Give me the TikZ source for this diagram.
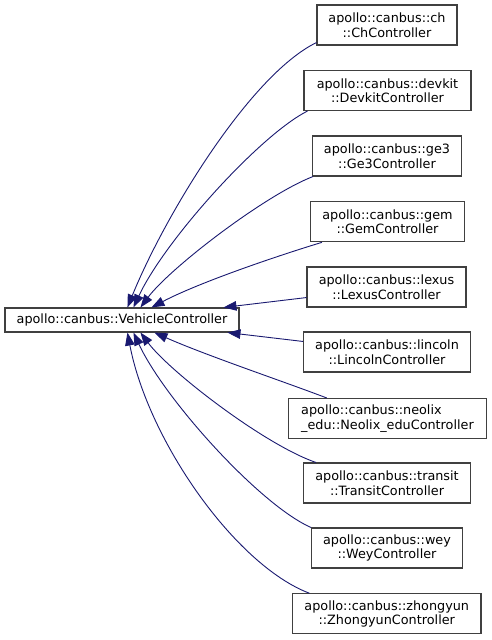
\documentclass[tikz,border=0pt]{standalone}
\usepackage{fontspec}
\setmainfont{DejaVu Sans}
\usetikzlibrary{arrows.meta}
\definecolor{edgec}{HTML}{191970}
\definecolor{boxc}{HTML}{404040}
\begin{document}
\begin{tikzpicture}[x=1pt,y=-1pt,
  cls/.style={draw=boxc, line width=1.1pt, fill=white, inner sep=0pt, align=center,
    minimum height=40pt, font=\fontsize{12.8}{14.5}\selectfont},
  inh/.style={draw=edgec, line width=0.9pt, -{Triangle[length=13pt,width=9.5pt]}}]
\useasboundingbox (0,0) rectangle (492,640);

\node[cls, minimum height=24pt, minimum width=234pt] (main) at (122,320) {apollo::canbus::VehicleController};
\node[cls, minimum width=140pt] (ch) at (387,25) {apollo::canbus::ch\\::ChController};
\node[cls, minimum width=167pt] (devkit) at (387.5,90.5) {apollo::canbus::devkit\\::DevkitController};
\node[cls, minimum width=149pt] (ge3) at (387,156) {apollo::canbus::ge3\\::Ge3Controller};
\node[cls, minimum width=154pt] (gem) at (387.5,221.8) {apollo::canbus::gem\\::GemController};
\node[cls, minimum width=159pt] (lexus) at (386.5,287) {apollo::canbus::lexus\\::LexusController};
\node[cls, minimum width=167pt] (lincoln) at (387,352) {apollo::canbus::lincoln\\::LincolnController};
\node[cls, align=left, minimum width=198.5pt] (neolix) at (387.5,418.5) {apollo::canbus::neolix\\\_edu::Neolix\_eduController};
\node[cls, minimum width=167pt] (transit) at (387,483) {apollo::canbus::transit\\::TransitController};
\node[cls, minimum width=151pt] (wey) at (387,548) {apollo::canbus::wey\\::WeyController};
\node[cls, minimum width=188.5pt] (zhongyun) at (386.75,613.8) {apollo::canbus::zhongyun\\::ZhongyunController};

\draw[inh] ([yshift=3pt]ch.south west) .. controls (250,75) and (165,215) .. ([xshift=123pt]main.north west);
\draw[inh] ([xshift=4pt]devkit.south west) .. controls (260,135) and (165,240) .. ([xshift=129pt]main.north west);
\draw[inh] ([xshift=1pt]ge3.south west) .. controls (265,195) and (170,268) .. ([xshift=136pt]main.north west);
\draw[inh] ([xshift=12pt]gem.south west) .. controls (280,255) and (200,282) .. ([xshift=147pt]main.north west);
\draw[inh] ([yshift=10pt]lexus.south west) -- ([xshift=219pt]main.north west);
\draw[inh] ([yshift=-10pt]lincoln.north west) -- ([xshift=223pt]main.south west);
\draw[inh] ([xshift=39pt]neolix.north west) .. controls (285,382) and (205,355) .. ([xshift=150pt]main.south west);
\draw[inh] ([xshift=13pt]transit.north west) .. controls (265,445) and (170,372) .. ([xshift=136pt]main.south west);
\draw[inh] (wey.north west) .. controls (260,505) and (165,400) .. ([xshift=129pt]main.south west);
\draw[inh] ([xshift=17.5pt]zhongyun.north west) .. controls (235,565) and (148,440) .. ([xshift=123pt]main.south west);
\end{tikzpicture}
\end{document}
